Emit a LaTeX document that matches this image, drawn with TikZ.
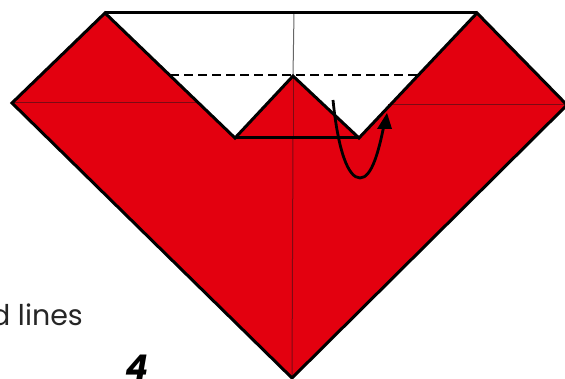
\documentclass[tikz,border=0pt]{standalone}
\usepackage{fontspec}
\setmainfont{Poppins}
\usetikzlibrary{arrows.meta}
\definecolor{foldred}{RGB}{227,0,15}
\definecolor{creasered}{RGB}{125,10,20}
\tikzset{
  outline/.style={draw=black,line width=3pt,line join=miter},
  crease/.style={draw=creasered,line width=1pt},
  creasegrey/.style={draw=black!60,line width=1pt},
  foldline/.style={draw=black,line width=1.2pt,dash pattern=on 9pt off 5pt},
  turn/.style={draw=black,line width=2.8pt},
  turnhead/.style={fill=black},
  caption/.style={font=\fontsize{28.5}{30}\selectfont\color{black!85},anchor=base east,inner sep=0pt},
  stepnum/.style={font=\fontsize{34}{36}\selectfont\bfseries\itshape,anchor=base,inner sep=0pt}
}
\begin{document}
\begin{tikzpicture}[x=1pt,y=-1pt]
\useasboundingbox (0,0) rectangle (565,379);
\clip (0,0) rectangle (565,379);
\fill[white] (0,0) rectangle (565,379);
\coordinate (tl) at (105,13);
\coordinate (tr) at (477,13);
\coordinate (l) at (12,103);
\coordinate (r) at (567,105);
\coordinate (b) at (292,378);
\coordinate (nl) at (235,138);
\coordinate (p) at (293,76);
\coordinate (nr) at (359,138);
\coordinate (dl) at (170,75);
\coordinate (dr) at (420,75);
\fill[foldred] (tl) -- (nl) -- (p) -- (nr) -- (tr) -- (r) -- (b) -- (l) -- cycle;
\draw[creasegrey] (294,13) -- (p);
\draw[crease] (p) -- (293,138);
\draw[crease] (293,138) -- (b);
\draw[crease] (l) -- (199,103);
\draw[crease] (388,105) -- (r);
\draw[foldline] (dl) -- (dr);
\draw[outline] (tl) -- (tr);
\draw[outline] (tl) -- (nl) -- (p) -- (nr) -- (tr) -- (r) -- (b) -- (l) -- cycle;
\draw[outline] (nl) -- (nr);
\draw[turn] (333,100) .. controls (338,150) and (348,178) .. (360,178) .. controls (372,178) and (379,150) .. (384,125);
\fill[turnhead] (387,113) -- (377,129) -- (392,129) -- cycle;
\node[caption] (cap) at (83,326) {d lines};
\node[stepnum] (num) at (137,379) {4};
\end{tikzpicture}
\end{document}
